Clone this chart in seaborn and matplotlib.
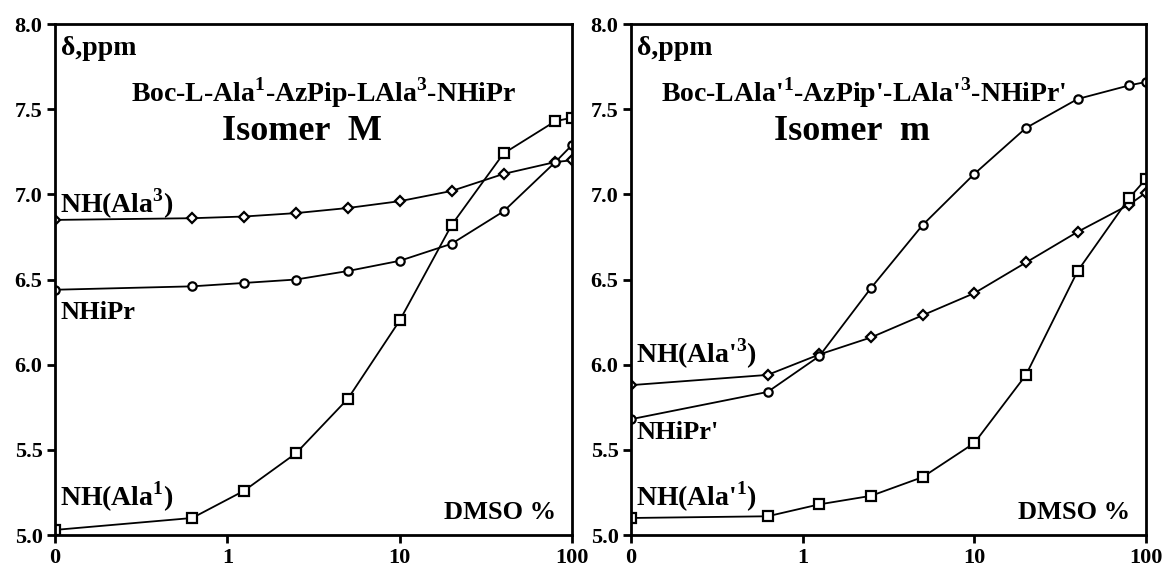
import matplotlib
matplotlib.use("Agg")
import matplotlib.pyplot as plt
import numpy as np
import pandas as pd
import seaborn as sns

# DMSO % (0 is drawn at the 0.1 decade position)
dmso = [0, 0.625, 1.25, 2.5, 5, 10, 20, 40, 80, 100]

# Isomer M
M_ala3 = [6.85, 6.86, 6.87, 6.89, 6.92, 6.96, 7.02, 7.12, 7.19, 7.20]
M_nhipr = [6.44, 6.46, 6.48, 6.50, 6.55, 6.61, 6.71, 6.90, 7.19, 7.29]
M_ala1 = [5.03, 5.10, 5.26, 5.48, 5.80, 6.26, 6.82, 7.24, 7.43, 7.45]

# Isomer m
m_ala3 = [5.88, 5.94, 6.06, 6.16, 6.29, 6.42, 6.60, 6.78, 6.94, 7.01]
m_nhipr = [5.68, 5.84, 6.05, 6.45, 6.82, 7.12, 7.39, 7.56, 7.64, 7.66]
m_ala1 = [5.10, 5.11, 5.18, 5.23, 5.34, 5.54, 5.94, 6.55, 6.98, 7.09]

xticks = [0.1, 1, 10, 100]
xticklabels = ["0", "1", "10", "100"]
yticks = [5.0, 5.5, 6.0, 6.5, 7.0, 7.5, 8.0]

sns.set_theme(style="white")
plt.rcParams["font.family"] = ["Liberation Serif", "DejaVu Serif"]
plt.rcParams["font.weight"] = "bold"
plt.rcParams["text.color"] = "black"
plt.rcParams["xtick.color"] = "black"
plt.rcParams["ytick.color"] = "black"
plt.rcParams["mathtext.fontset"] = "custom"
plt.rcParams["mathtext.rm"] = "Liberation Serif:bold"
plt.rcParams["mathtext.bf"] = "Liberation Serif:bold"

x_pos = np.where(np.array(dmso) == 0, 0.1, dmso)


def draw_series(ax, y, marker, ms):
    df = pd.DataFrame({"x": x_pos, "y": y})
    sns.lineplot(data=df, x="x", y="y", ax=ax, color="black", lw=1.3,
                 marker=marker, markersize=ms, markerfacecolor="white",
                 markeredgecolor="black", markeredgewidth=1.6)


def style_axes(ax):
    ax.set_xscale("log")
    ax.set_xlim(0.1, 100)
    ax.set_ylim(5.0, 8.0)
    ax.set_xticks(xticks)
    ax.set_xticklabels(xticklabels)
    ax.minorticks_off()
    ax.set_yticks(yticks)
    ax.set_yticklabels([f"{v:.1f}" for v in yticks])
    ax.set_xlabel("")
    ax.set_ylabel("")
    for s in ax.spines.values():
        s.set_color("black")
        s.set_linewidth(2)
    ax.tick_params(axis="both", which="major", direction="out", length=6,
                   width=2, color="black", labelcolor="black", labelsize=16,
                   pad=3, left=True, bottom=True)
    for lab in ax.get_xticklabels() + ax.get_yticklabels():
        lab.set_fontweight("bold")
    ax.text(0.012, 0.952, "δ,ppm", transform=ax.transAxes, fontsize=20,
            fontweight="bold", va="center", ha="left")
    ax.text(0.97, 0.045, "DMSO %", transform=ax.transAxes, fontsize=19,
            fontweight="bold", va="center", ha="right")


fig = plt.figure(figsize=(11.64, 5.67), dpi=100)
ax1 = fig.add_axes([0.0473, 0.0564, 0.4442, 0.9012])
ax2 = fig.add_axes([0.5421, 0.0564, 0.4424, 0.9012])

draw_series(ax1, M_ala3, "D", 5.5)
draw_series(ax1, M_nhipr, "o", 6)
draw_series(ax1, M_ala1, "s", 6.5)
style_axes(ax1)
ax1.text(0.52, 0.865, r"Boc-L-Ala$^{1}$-AzPip-LAla$^{3}$-NHiPr",
         transform=ax1.transAxes, fontsize=20, fontweight="bold", ha="center", va="center")
ax1.text(0.478, 0.79, "Isomer  M", transform=ax1.transAxes, fontsize=26,
         fontweight="bold", ha="center", va="center")
ax1.text(0.01, 0.648, r"NH(Ala$^{3}$)", transform=ax1.transAxes, fontsize=20,
         fontweight="bold", ha="left", va="center")
ax1.text(0.01, 0.435, "NHiPr", transform=ax1.transAxes, fontsize=19,
         fontweight="bold", ha="left", va="center")
ax1.text(0.01, 0.075, r"NH(Ala$^{1}$)", transform=ax1.transAxes, fontsize=20,
         fontweight="bold", ha="left", va="center")

draw_series(ax2, m_ala3, "D", 5.5)
draw_series(ax2, m_nhipr, "o", 6)
draw_series(ax2, m_ala1, "s", 6.5)
style_axes(ax2)
ax2.text(0.452, 0.865, r"Boc-LAla'$^{1}$-AzPip'-LAla'$^{3}$-NHiPr'",
         transform=ax2.transAxes, fontsize=20, fontweight="bold", ha="center", va="center")
ax2.text(0.43, 0.79, "Isomer  m", transform=ax2.transAxes, fontsize=26,
         fontweight="bold", ha="center", va="center")
ax2.text(0.01, 0.355, r"NH(Ala'$^{3}$)", transform=ax2.transAxes, fontsize=20,
         fontweight="bold", ha="left", va="center")
ax2.text(0.01, 0.2, "NHiPr'", transform=ax2.transAxes, fontsize=19,
         fontweight="bold", ha="left", va="center")
ax2.text(0.01, 0.075, r"NH(Ala'$^{1}$)", transform=ax2.transAxes, fontsize=20,
         fontweight="bold", ha="left", va="center")

fig.savefig("out.png", dpi=100)
